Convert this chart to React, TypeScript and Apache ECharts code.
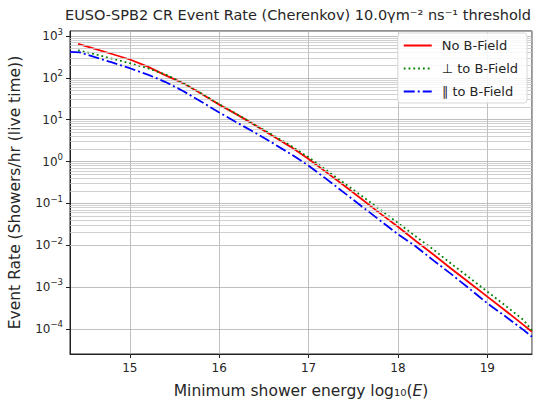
import React, { useEffect, useRef } from "react";
import * as echarts from "echarts";

// ---- Data (x = log10(E), y = showers/hr) ----
const energyNoB = [14.42, 14.6, 14.8, 15.0, 15.2, 15.4, 15.6, 15.8, 16.0, 16.2, 16.4, 16.6, 16.8, 17.0, 17.2, 17.4, 17.6, 17.8, 18.0, 18.2, 18.4, 18.6, 18.8, 19.0, 19.2, 19.4, 19.5];
const rateNoB = [646, 501, 372, 275, 186, 115, 74.1, 41.7, 22.9, 13.2, 7.41, 4.07, 2.24, 1.15, 0.55, 0.263, 0.123, 0.0575, 0.0275, 0.0126, 0.00589, 0.00269, 0.00126, 5.89e-4, 2.75e-4, 1.26e-4, 8.51e-5];

const energyPerp = [14.42, 14.6, 14.8, 15.0, 15.2, 15.4, 15.6, 15.8, 16.0, 16.2, 16.4, 16.6, 16.8, 17.0, 17.2, 17.4, 17.6, 17.8, 18.0, 18.2, 18.4, 18.6, 18.8, 19.0, 19.2, 19.4, 19.5];
const ratePerp = [457, 372, 288, 224, 170, 120, 75.9, 42.7, 23.4, 13.5, 7.59, 4.27, 2.4, 1.26, 0.617, 0.302, 0.148, 0.0708, 0.0339, 0.0162, 0.00776, 0.00355, 0.00166, 7.76e-4, 3.63e-4, 1.66e-4, 9.12e-5];

const energyPar = [14.33, 14.44, 14.6, 14.8, 15.0, 15.2, 15.4, 15.6, 15.8, 16.0, 16.2, 16.4, 16.6, 16.8, 17.0, 17.2, 17.4, 17.6, 17.8, 18.0, 18.2, 18.4, 18.6, 18.8, 19.0, 19.2, 19.4, 19.5];
const ratePar = [417, 407, 316, 234, 170, 120, 79.4, 47.9, 26.9, 14.8, 8.51, 4.9, 2.75, 1.51, 0.794, 0.38, 0.178, 0.0832, 0.0389, 0.0182, 0.00933, 0.00427, 0.002, 9.12e-4, 4.07e-4, 2.0e-4, 9.55e-5, 6.46e-5];

const seriesNames = ["No B-Field", "\u22A5 to B-Field", "\u2225 to B-Field"];
const minorFactors = [2, 3, 4, 5, 6, 7, 8, 9];
const minorDecades = [-5, -4, -3, -2, -1, 0, 1, 2];

const X_MIN = 14.33;
const X_MAX = 19.5;
const Y_MIN = 2.5e-5;
const Y_MAX = 1.32e3;

const FONT = "DejaVu Sans";
const TXT = "#262626";

function zip(xs: number[], ys: number[]) {
  return xs.map((x, i) => [x, ys[i]]);
}

function supExp(v: number) {
  const e = Math.round(Math.log10(v));
  const s = e < 0 ? "\u2212" + Math.abs(e) : String(e);
  return `{b|10}{s|${s}}`;
}

export default function App() {
  const ref = useRef<HTMLDivElement>(null);
  useEffect(() => {
    if (!ref.current) return;
    const chart = echarts.init(ref.current, null, { renderer: "svg" });

    const minorLines: any[] = [];
    minorDecades.forEach((n) => {
      minorFactors.forEach((k) => {
        const v = k * Math.pow(10, n);
        if (v > Y_MIN && v < Y_MAX) minorLines.push({ yAxis: v });
      });
    });

    const option: any = {
      animation: false,
      backgroundColor: "#fff",
      textStyle: { fontFamily: FONT },
      grid: {
        left: 70,
        right: 3,
        top: 31,
        bottom: 53,
        containLabel: false,
        outerBoundsMode: "none",
        show: true,
        borderColor: "#222",
        borderWidth: 1,
        backgroundColor: "transparent",
      },
      graphic: [
        {
          type: "text",
          x: 298,
          y: 15,
          silent: true,
          style: {
            text: "EUSO-SPB2 CR Event Rate (Cherenkov) 10.0\u03B3m\u207B\u00B2 ns\u207B\u00B9 threshold",
            fontSize: 14.5,
            fontFamily: FONT,
            fill: TXT,
            align: "center",
            verticalAlign: "middle",
          },
        },
      ],
      legend: {
        data: seriesNames,
        orient: "vertical",
        right: 8,
        top: 33,
        z: 10,
        itemWidth: 28,
        itemHeight: 12,
        itemGap: 10,
        padding: [6, 9, 5, 5],
        backgroundColor: "rgba(255,255,255,0.85)",
        borderColor: "#d8d8d8",
        borderWidth: 1,
        borderRadius: 3,
        itemStyle: { opacity: 0 },
        textStyle: { fontSize: 13, color: TXT, fontFamily: FONT, padding: [0, 0, 0, 5] },
      },
      xAxis: {
        type: "value",
        min: X_MIN,
        max: X_MAX,
        name: "Minimum shower energy log\u2081\u2080({i|E})",
        nameLocation: "middle",
        nameGap: 29,
        nameTextStyle: {
          fontSize: 15.5,
          color: TXT,
          fontFamily: FONT,
          rich: { i: { fontSize: 15.5, fontStyle: "italic", color: TXT, fontFamily: FONT } },
        },
        axisLine: { show: true, lineStyle: { color: "#222", width: 1 } },
        axisTick: { show: true, inside: false, length: 4, lineStyle: { color: "#222" } },
        axisLabel: {
          show: true,
          showMinLabel: false,
          showMaxLabel: false,
          fontSize: 12,
          color: TXT,
          margin: 8,
          fontFamily: FONT,
        },
        splitLine: { show: true, lineStyle: { color: "#b0b0b0", width: 0.8 } },
      },
      yAxis: {
        type: "log",
        logBase: 10,
        min: Y_MIN,
        max: Y_MAX,
        name: "Event Rate (Showers/hr (live time))",
        nameLocation: "middle",
        nameGap: 47,
        nameTextStyle: { fontSize: 15.5, color: TXT, fontFamily: FONT },
        axisLine: { show: true, lineStyle: { color: "#222", width: 1 } },
        axisTick: { show: true, inside: false, length: 4, lineStyle: { color: "#222" } },
        axisLabel: {
          showMinLabel: false,
          showMaxLabel: false,
          margin: 7,
          formatter: (v: number) => supExp(v),
          rich: {
            b: { fontSize: 12, lineHeight: 18, color: TXT, fontFamily: FONT },
            s: { fontSize: 8.5, lineHeight: 9, color: TXT, fontFamily: FONT, verticalAlign: "top" },
          },
        },
        splitLine: { show: true, lineStyle: { color: "#b0b0b0", width: 0.8 } },
      },
      series: [
        {
          type: "line",
          name: "minor-grid",
          data: [],
          silent: true,
          z: 1,
          markLine: {
            silent: true,
            symbol: ["none", "none"],
            label: { show: false },
            lineStyle: { color: "#c4c4c4", width: 0.8, type: "solid" },
            data: minorLines,
          },
        },
        {
          type: "line",
          name: seriesNames[0],
          data: zip(energyNoB, rateNoB),
          symbol: "none",
          z: 3,
          lineStyle: { color: "#ff0000", width: 1.8, type: "solid" },
          itemStyle: { color: "#ff0000" },
        },
        {
          type: "line",
          name: seriesNames[1],
          data: zip(energyPerp, ratePerp),
          symbol: "none",
          z: 4,
          lineStyle: { color: "#008000", width: 1.8, type: [1.8, 3] },
          itemStyle: { color: "#008000" },
        },
        {
          type: "line",
          name: seriesNames[2],
          data: zip(energyPar, ratePar),
          symbol: "none",
          z: 5,
          lineStyle: { color: "#0000ff", width: 1.8, type: [11, 3, 2, 3] },
          itemStyle: { color: "#0000ff" },
        },
      ],
    };
    chart.setOption(option);
    return () => chart.dispose();
  }, []);
  return (
    <div
      ref={ref}
      style={{ position: "absolute", left: 0, top: 0, width: 535, height: 407 }}
    />
  );
}
